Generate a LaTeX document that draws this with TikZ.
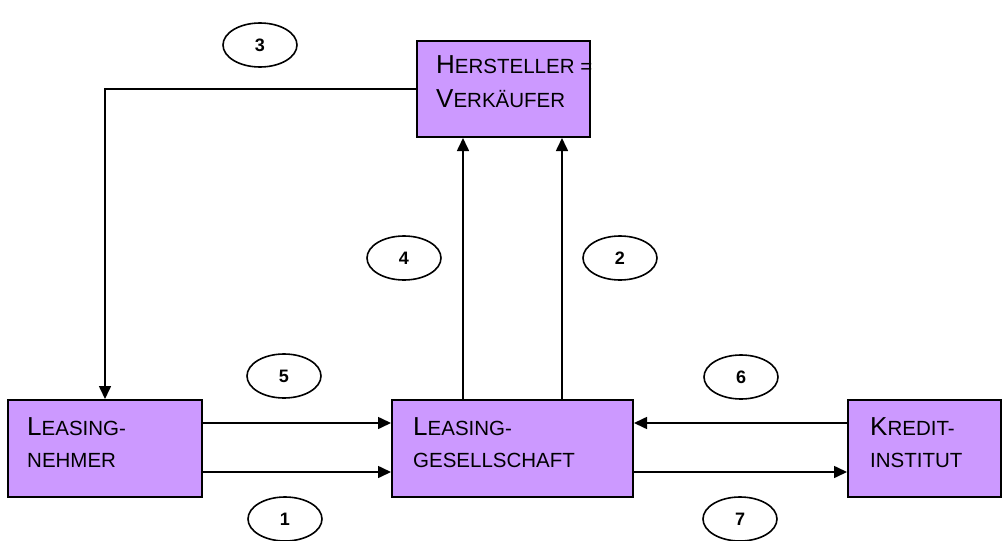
\documentclass[tikz,border=0pt]{standalone}
\usepackage{fontspec}
\setmainfont{Liberation Sans}
\usetikzlibrary{arrows.meta,shapes.geometric}
\definecolor{boxfill}{HTML}{CC99FF}
\newcommand\BL[1]{{\fontsize{26}{26}\selectfont #1}}
\begin{document}
\begin{tikzpicture}[x=1pt,y=-1pt,
  box/.style={draw=black,line width=2pt,fill=boxfill,inner sep=0pt},
  lbl/.style={anchor=base west,inner sep=0pt,font=\fontsize{20.5}{21}\selectfont},
  oval/.style={ellipse,draw=black,line width=1.6pt,minimum width=74pt,minimum height=44pt,inner sep=0pt,font=\fontsize{18}{18}\selectfont\bfseries},
  arr/.style={draw=black,line width=1.6pt,-{Triangle[length=13pt,width=12pt]}}]
\useasboundingbox (0,0) rectangle (1005,541);
% boxes
\node[box,minimum width=173pt,minimum height=96pt] (hv) at (503.5,89) {};
\node[box,minimum width=194pt,minimum height=97pt] (ln) at (105,448.5) {};
\node[box,minimum width=241pt,minimum height=97pt] (lg) at (512.5,448.5) {};
\node[box,minimum width=153pt,minimum height=97pt] (ki) at (924.5,448.5) {};
% texts
\node[lbl] (hv1) at (436,73) {\BL{H}ERSTELLER =};
\node[lbl] (hv2) at (436,107) {\BL{V}ERKÄUFER};
\node[lbl] (ln1) at (27,435) {\BL{L}EASING-};
\node[lbl] (ln2) at (27,467) {NEHMER};
\node[lbl] (lg1) at (413,435) {\BL{L}EASING-};
\node[lbl] (lg2) at (413,467) {GESELLSCHAFT};
\node[lbl] (ki1) at (870,435) {\BL{K}REDIT-};
\node[lbl] (ki2) at (870,467) {INSTITUT};
% helper coordinates
\coordinate (c4) at (463,0);
\coordinate (c2) at (562,0);
\coordinate (r5) at (0,423);
\coordinate (r1) at (0,472);
% connectors
\draw[arr] (hv.west) -| (ln.north);
\draw[arr] (lg.north -| c4) -- (hv.south -| c4);
\draw[arr] (lg.north -| c2) -- (hv.south -| c2);
\draw[arr] (ln.east |- r5) -- (lg.west |- r5);
\draw[arr] (ln.east |- r1) -- (lg.west |- r1);
\draw[arr] (ki.west |- r5) -- (lg.east |- r5);
\draw[arr] (lg.east |- r1) -- (ki.west |- r1);
% ovals
\node[oval] (e3) at (260,45) {3};
\node[oval] (e4) at (404,258) {4};
\node[oval] (e2) at (620,258) {2};
\node[oval] (e5) at (284,376) {5};
\node[oval] (e6) at (741,377) {6};
\node[oval] (e1) at (285,519) {1};
\node[oval] (e7) at (740,519) {7};
\end{tikzpicture}
\end{document}
